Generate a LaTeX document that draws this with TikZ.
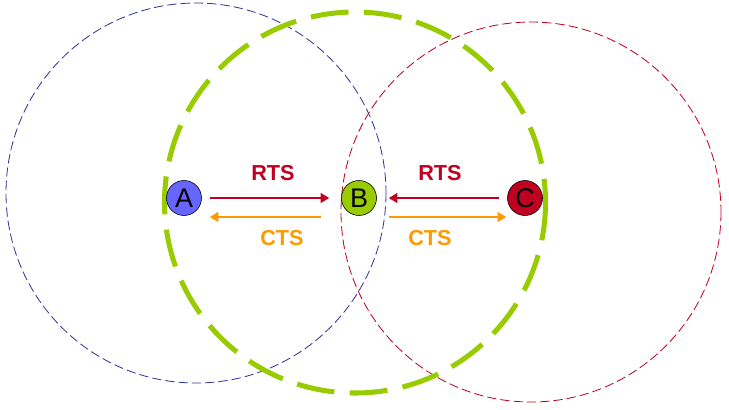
\documentclass[tikz,border=0pt]{standalone}
\usepackage{fontspec}
\setmainfont{Liberation Sans}
\usetikzlibrary{arrows.meta}
\definecolor{rangeblue}{HTML}{333399}
\definecolor{nodeblue}{HTML}{6666FF}
\definecolor{leafgreen}{HTML}{99CC00}
\definecolor{darkred}{HTML}{C00020}
\definecolor{ctsorange}{HTML}{FF9900}
\tikzset{
  station/.style={circle, draw=black, line width=0.5pt, minimum size=10.5mm, inner sep=0pt, font=\fontsize{23}{23}\selectfont},
  rts/.style={darkred, line width=1.2pt, -{Triangle[length=2.6mm,width=3mm]}},
  cts/.style={ctsorange, line width=1.2pt, -{Triangle[length=2.6mm,width=3mm]}},
  msg/.style={font=\fontsize{18.5}{18.5}\selectfont\bfseries}
}
\begin{document}
\begin{tikzpicture}[x=0.3mm,y=-0.3mm]
\useasboundingbox (0,0) rectangle (729,409);
% ranges
\draw [rangeblue, line width=0.7pt, dash pattern=on 2.8mm off 1.2mm] (196,193) circle (190);
\draw [darkred, line width=0.7pt, dash pattern=on 2.8mm off 1.2mm] (531,212) circle (190);
\draw [leafgreen, line width=4.3pt, dash pattern=on 11.4mm off 4.6mm] (355,202.5) circle (190.5);
% stations
\node [station, fill=nodeblue] (A) at (184,198) {A};
\node [station, fill=leafgreen] (B) at (359,198) {B};
\node [station, fill=darkred] (C) at (525,198) {C};
% handshake
\draw [rts] ([shift={(8,0)}]A.east) -- ([shift={(-12,0)}]B.west);
\draw [cts] ([shift={(-20,19)}]B.west) -- ([shift={(8,19)}]A.east);
\draw [rts] ([shift={(-8,0)}]C.west) -- ([shift={(12,0)}]B.east);
\draw [cts] ([shift={(12,19)}]B.east) -- ([shift={(-1,19)}]C.west);
\node [msg, darkred] (rtsab) at (273,173) {RTS};
\node [msg, ctsorange] (ctsba) at (282,238) {CTS};
\node [msg, darkred] (rtscb) at (440,173) {RTS};
\node [msg, ctsorange] (ctsbc) at (430,238) {CTS};
\end{tikzpicture}
\end{document}
